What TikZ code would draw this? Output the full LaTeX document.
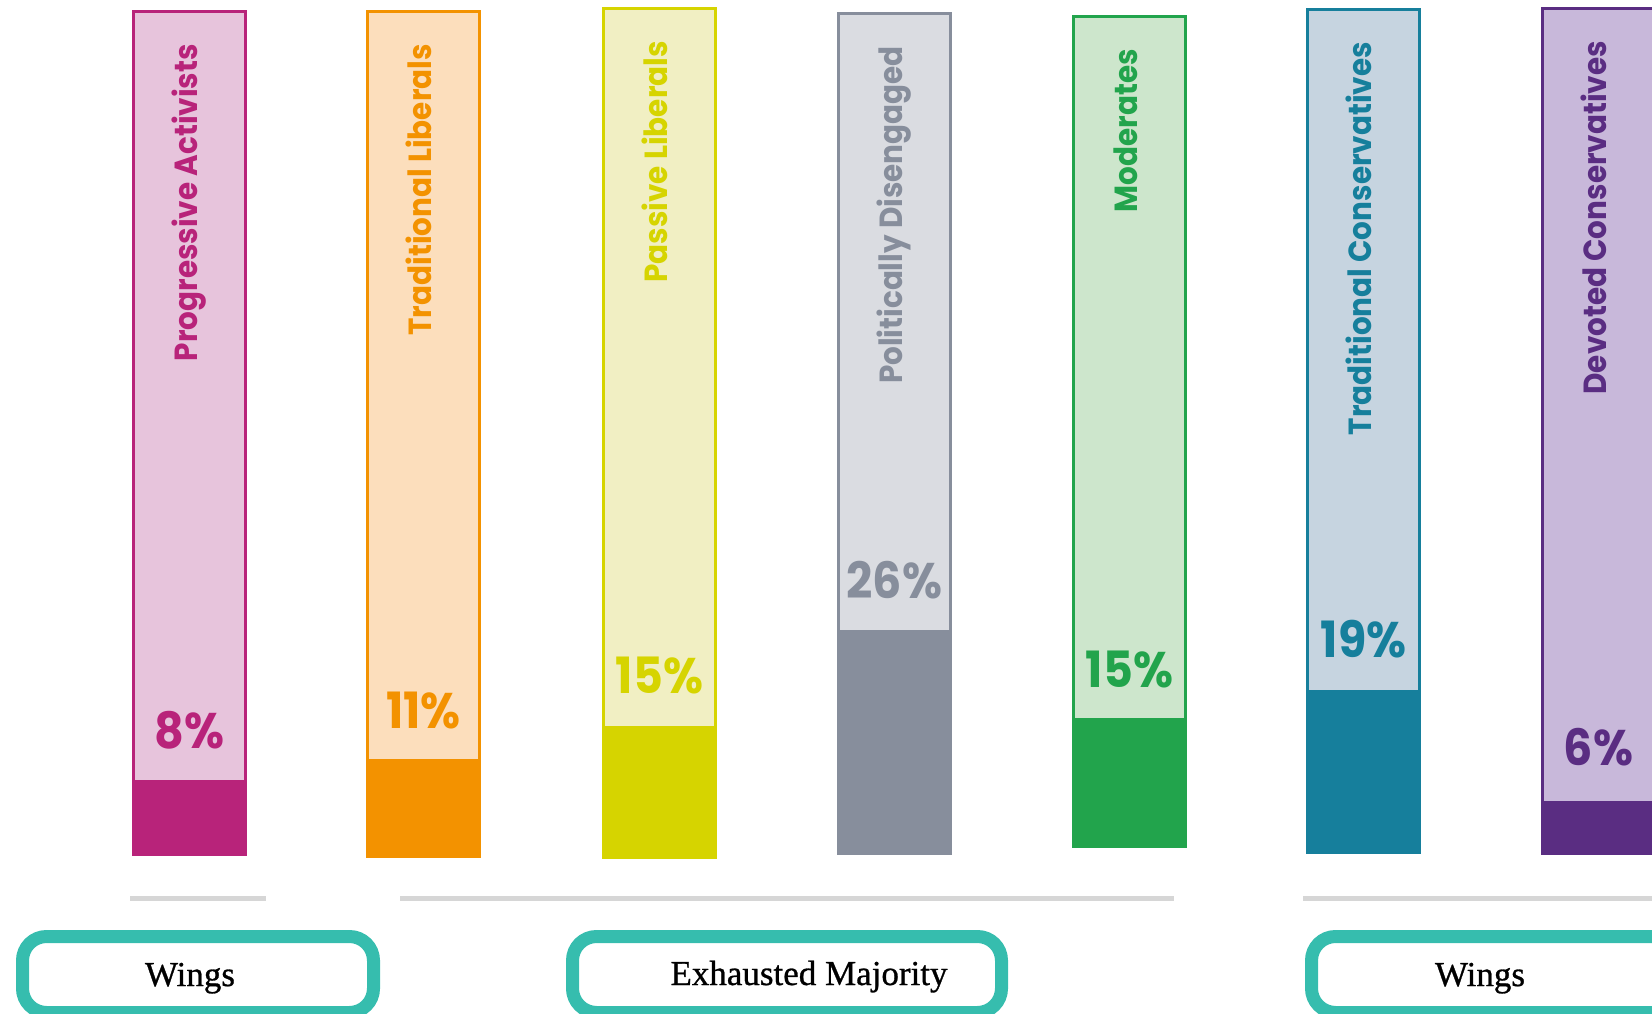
\documentclass[tikz,border=0pt]{standalone}
\usepackage{fontspec}
\setsansfont{Poppins}
\newfontfamily\segfont[FakeStretch=0.92]{Poppins}
\newfontfamily\boxfont[FakeBold=0.8]{Liberation Serif}
\usepackage{tikz}
\definecolor{PAdark}{HTML}{B8237A}
\definecolor{PAlight}{HTML}{E7C4DC}
\definecolor{TLdark}{HTML}{F39200}
\definecolor{TLlight}{HTML}{FCDEBC}
\definecolor{PLdark}{HTML}{D6D400}
\definecolor{PLlight}{HTML}{F1EFC3}
\definecolor{PDdark}{HTML}{878E9C}
\definecolor{PDlight}{HTML}{DADCE1}
\definecolor{MOdark}{HTML}{22A44C}
\definecolor{MOlight}{HTML}{CDE6CC}
\definecolor{TCdark}{HTML}{167F9C}
\definecolor{TClight}{HTML}{C6D4E0}
\definecolor{DCdark}{HTML}{5A2D82}
\definecolor{DClight}{HTML}{C8B8DA}
\definecolor{groupteal}{HTML}{36BDAE}
\definecolor{rulegray}{HTML}{D6D6D6}
\tikzstyle{segment name}=[font=\segfont\bfseries\fontsize{32}{32}\selectfont, rotate=90, anchor=base east, inner sep=0pt]
\tikzstyle{share}=[font=\segfont\bfseries\fontsize{50}{50}\selectfont, anchor=base, inner sep=0pt]
\tikzstyle{group rule}=[draw=rulegray, line width=5pt]
\tikzstyle{group box}=[draw=groupteal, line width=13pt, rounded corners=24pt]
\tikzstyle{group name}=[font=\boxfont\fontsize{35}{35}\selectfont, anchor=base, inner sep=0pt]

\begin{document}
\begin{tikzpicture}[x=1pt,y=-1pt]
    \useasboundingbox (0,0) rectangle (1652,1014);
    \clip (0,0) rectangle (1652,1014);
    % First we draw the seven segment bars
    \foreach \x/\btop/\ftop/\bbot/\pct/\id/\name/\val in {
        132/10/780/854/748/PA/Progressive Activists/8,
        366/10/759/856/728/TL/Traditional Liberals/11,
        602/7/726/857/693/PL/Passive Liberals/15,
        837/12/630/853/598/PD/Politically Disengaged/26,
        1072/15/718/846/687/MO/Moderates/15,
        1306/8/690/852/657/TC/Traditional Conservatives/19,
        1541/7/801/853/765/DC/Devoted Conservatives/6}
    {
        \path[fill=\id light, draw=\id dark, line width=3pt] (\x+1.5,\btop+1.5) rectangle (\x+113.5,\bbot);
        \fill[\id dark] (\x,\ftop) rectangle (\x+115,\bbot);
        \node[segment name, text=\id dark] (\id-name) at (\x+65.5,\btop+34) {\name};
        \node[share, text=\id dark] (\id-share) at (\x+57.5,\pct) {\val\%};
    }
    
    % Grey rules under the bars
    \draw[group rule] (130,898) -- (266,898);
    \draw[group rule] (400,898) -- (1174,898);
    \draw[group rule] (1303,898) -- (1652,898);
    
    % Then the group boxes
    \draw[group box] (22.5,936.5) rectangle (373.5,1012.5);
    \draw[group box] (572.5,936.5) rectangle (1001.5,1012.5);
    \draw[group box] (1311.5,936.5) rectangle (1700,1012.5);
    \node[group name] (wings-left) at (190,986) {Wings};
    \node[group name] (majority) at (809,985) {Exhausted Majority};
    \node[group name] (wings-right) at (1480,986) {Wings};
\end{tikzpicture}
\end{document}
